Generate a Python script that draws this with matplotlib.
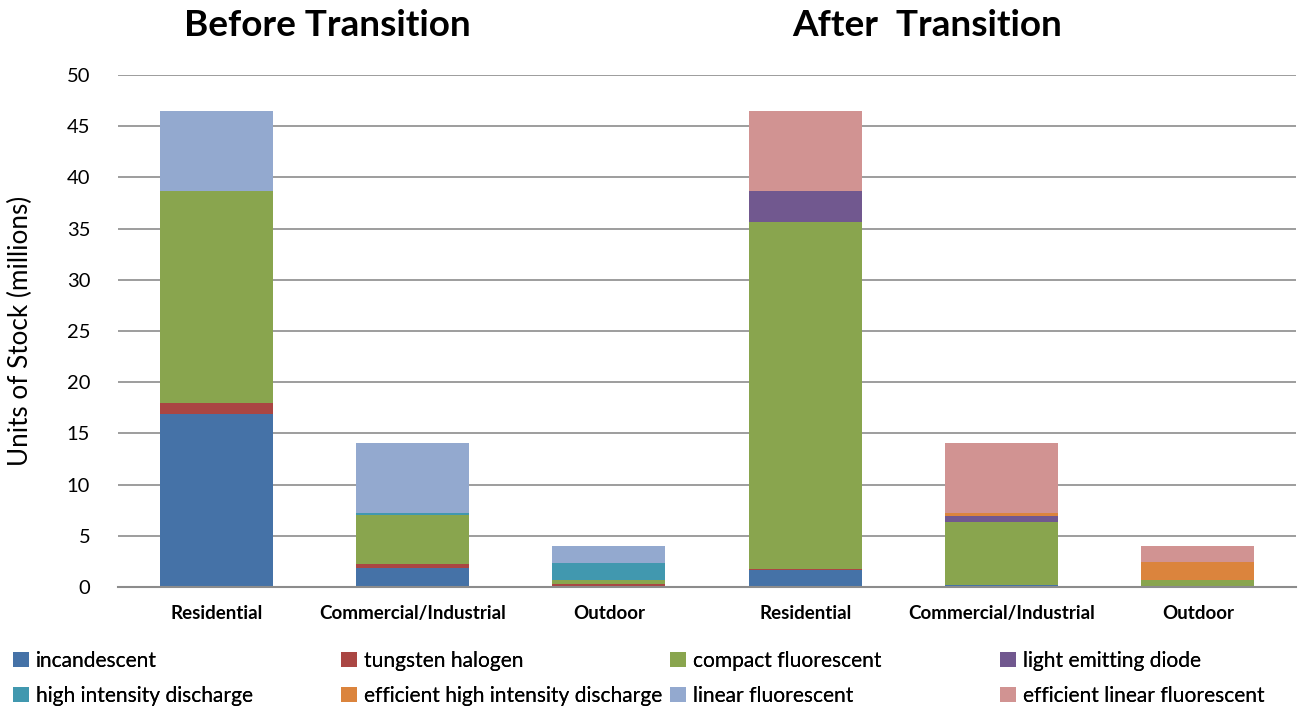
import numpy as np
import matplotlib
matplotlib.use("Agg")
from matplotlib import pyplot as plt
from matplotlib.patches import Patch

plt.rcParams['font.family'] = ['Lato', 'DejaVu Sans']

categories = ["Residential", "Commercial/Industrial", "Outdoor",
              "Residential", "Commercial/Industrial", "Outdoor"]
technologies = ["incandescent", "tungsten halogen", "compact fluorescent",
                "light emitting diode", "high intensity discharge",
                "efficient high intensity discharge", "linear fluorescent",
                "efficient linear fluorescent"]

# stock per technology, millions of units (before x3, after x3)
incandescent = [16.9, 1.9, 0.0, 1.7, 0.15, 0.0]
tungsten_halogen = [1.05, 0.3, 0.25, 0.1, 0.0, 0.0]
compact_fluorescent = [20.7, 4.8, 0.45, 33.8, 6.2, 0.7]
light_emitting_diode = [0.0, 0.0, 0.0, 3.1, 0.6, 0.0]
high_intensity_discharge = [0.0, 0.25, 1.65, 0.0, 0.0, 0.0]
efficient_hid = [0.0, 0.0, 0.0, 0.0, 0.3, 1.7]
linear_fluorescent = [7.8, 6.8, 1.65, 0.0, 0.0, 0.0]
efficient_linear_fluorescent = [0.0, 0.0, 0.0, 7.8, 6.8, 1.65]

series = [incandescent, tungsten_halogen, compact_fluorescent, light_emitting_diode,
          high_intensity_discharge, efficient_hid, linear_fluorescent,
          efficient_linear_fluorescent]
colors = ["#4572A7", "#AA4643", "#89A54E", "#71588F",
          "#4198AF", "#DB843D", "#93A9CF", "#D19392"]

W, H = 1298, 711
fig = plt.figure(figsize=(W / 100, H / 100), dpi=100)
ax = fig.add_axes([118 / W, 1 - 587 / H, 1178 / W, 512 / H])

x = np.arange(len(categories))
bottom = np.zeros(len(categories))
for vals, col in zip(series, colors):
    ax.bar(x, vals, width=0.576, bottom=bottom, color=col, zorder=3)
    bottom += np.array(vals)

ax.set_xlim(-0.5, len(categories) - 0.5)
ax.set_ylim(0, 50)
ax.set_yticks(range(0, 51, 5))
ax.tick_params(axis='y', length=0, labelsize=14.5, pad=20)
ax.tick_params(axis='x', length=0, pad=13)
ax.set_xticks(x)
ax.set_xticklabels(categories, fontsize=13.5, fontweight='bold')
ax.yaxis.grid(True, color='#8c8c8c', linewidth=1.2, zorder=0)
for side in ['left', 'right', 'top']:
    ax.spines[side].set_visible(False)
ax.spines['bottom'].set_color('#8c8c8c')
ax.spines['bottom'].set_linewidth(1.5)
ax.spines['bottom'].set_zorder(4)
ax.set_ylabel("Units of Stock (millions)", fontsize=18.8, labelpad=24)

fig.text(327 / W, 1 - 25 / H, "Before Transition", fontsize=26.6,
         fontweight='bold', ha='center', va='center')
fig.text(927 / W, 1 - 25 / H, "After  Transition", fontsize=26.6,
         fontweight='bold', ha='center', va='center')

# legend: four columns of two entries each
col_x = [13, 341, 670, 1000]
for c, x0 in enumerate(col_x):
    idx = [c, c + 4]
    leg = fig.legend([Patch(facecolor=colors[i], edgecolor='none') for i in idx],
                     [technologies[i] for i in idx],
                     loc='upper left', bbox_to_anchor=(x0 / W, 1 - 651 / H),
                     frameon=False, fontsize=15.1, handlelength=0.75,
                     handleheight=0.75, handletextpad=0.35, labelspacing=0.72,
                     borderpad=0, borderaxespad=0)
    fig.add_artist(leg)

fig.savefig("out.png", dpi=100)
